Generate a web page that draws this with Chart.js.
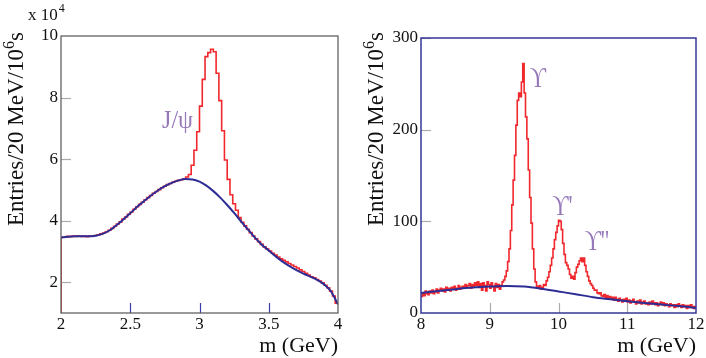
<!DOCTYPE html>
<html>
<head>
<meta charset="utf-8">
<script src="https://cdn.jsdelivr.net/npm/chart.js@4"></script>
<style>
  html, body { margin: 0; padding: 0; background: #fff; }
  #wrap { position: relative; width: 706px; height: 358px; }
  canvas { position: absolute; top: 0; }
  #c1 { left: 0; }
  #c2 { left: 350px; }
</style>
</head>
<body>
<div id="wrap">
  <canvas id="c1" width="350" height="358"></canvas>
  <canvas id="c2" width="356" height="358"></canvas>
</div>
<script>
// ---- J/psi region (x 10^4 entries per 20 MeV bin) ----
const jpsiStart = 2.0;
const jpsiBin = 0.02;
const jpsiCounts = [
  3.46, 3.47, 3.49, 3.48, 3.50, 3.49, 3.50, 3.49, 3.50, 3.48,
  3.50, 3.50, 3.52, 3.54, 3.57, 3.60, 3.64, 3.69, 3.75, 3.82,
  3.89, 3.96, 4.05, 4.12, 4.21, 4.28, 4.37, 4.45, 4.53, 4.60,
  4.68, 4.75, 4.82, 4.89, 4.95, 5.01, 5.07, 5.12, 5.17, 5.21,
  5.25, 5.28, 5.31, 5.33, 5.35, 5.42, 5.50, 5.80, 6.29, 6.89,
  7.72, 8.59, 9.33, 9.46, 9.57, 9.49, 8.79, 7.90, 6.92, 5.97,
  5.34, 4.84, 4.55, 4.34, 4.10, 3.95, 3.83, 3.72, 3.61, 3.50,
  3.41, 3.32, 3.23, 3.15, 3.08, 3.01, 2.94, 2.88, 2.82, 2.76,
  2.71, 2.66, 2.61, 2.56, 2.51, 2.46, 2.40, 2.35, 2.29, 2.23,
  2.18, 2.14, 2.09, 2.04, 1.98, 1.90, 1.82, 1.71, 1.55, 1.32
];
const jpsiFitX = [
  2.00, 2.05, 2.10, 2.15, 2.20, 2.25, 2.30, 2.35, 2.40, 2.45,
  2.50, 2.55, 2.60, 2.65, 2.70, 2.75, 2.80, 2.85, 2.90, 2.95,
  3.00, 3.05, 3.10, 3.15, 3.20, 3.25, 3.30, 3.35, 3.40, 3.45,
  3.50, 3.55, 3.60, 3.65, 3.70, 3.75, 3.80, 3.85, 3.90, 3.95, 4.00
];
const jpsiFitY = [
  3.45, 3.48, 3.49, 3.49, 3.49, 3.51, 3.57, 3.68, 3.85, 4.04,
  4.24, 4.45, 4.64, 4.82, 4.98, 5.12, 5.23, 5.31, 5.35, 5.34,
  5.27, 5.14, 4.96, 4.75, 4.51, 4.25, 3.98, 3.71, 3.45, 3.22,
  3.03, 2.84, 2.67, 2.52, 2.39, 2.28, 2.18, 2.08, 1.93, 1.70, 1.28
];
const jpsiXTicks = [2, 2.5, 3, 3.5, 4];
const jpsiYTicks = [2, 4, 6, 8, 10];

// ---- Upsilon region (entries per 20 MeV bin) ----
const upsStart = 8.0;
const upsBin = 0.02;
const upsCounts = [
  18, 22, 19, 24, 21, 20, 24, 22, 25, 21,
  23, 26, 22, 25, 27, 24, 26, 23, 28, 25,
  27, 24, 28, 26, 29, 25, 27, 30, 26, 28,
  29, 27, 31, 28, 30, 32, 27, 31, 29, 33,
  30, 34, 28, 32, 25, 33, 30, 24, 34, 31,
  27, 33, 29, 24, 32, 28, 31, 26, 30, 34,
  36, 40, 46, 56, 70, 90, 118, 145, 172, 205,
  232, 240, 236, 252, 272, 240, 214, 190, 156, 126,
  98, 70, 48, 34, 29, 27, 30, 26, 28, 31,
  30, 35, 39, 45, 52, 60, 70, 80, 88, 95,
  101, 100, 91, 76, 64, 55, 52, 48, 42, 38,
  40, 37, 44, 50, 53, 57, 60, 56, 60, 52,
  45, 40, 35, 32, 30, 27, 25, 25, 22, 21,
  22, 19, 18, 20, 17, 19, 16, 18, 15, 17,
  14, 17, 15, 13, 16, 14, 12, 15, 13, 16,
  12, 14, 11, 13, 15, 12, 10, 13, 11, 14,
  10, 12, 13, 10, 11, 9, 12, 10, 13, 11,
  9, 11, 8, 10, 12, 9, 11, 8, 10, 9,
  7, 10, 8, 9, 6, 9, 7, 10, 8, 6,
  9, 7, 8, 5, 8, 6, 9, 7, 5, 7
];
const upsFitX = [8.0, 8.25, 8.5, 8.75, 9.0, 9.25, 9.5, 9.75, 10.0, 10.25, 10.5, 10.75, 11.0, 11.25, 11.5, 11.75, 12.0];
const upsFitY = [21.8, 24.0, 26.0, 27.7, 28.8, 29.5, 28.8, 26.5, 23.5, 20.5, 17.3, 15.0, 12.8, 10.9, 9.2, 7.6, 5.5];
const upsXTicks = [8, 9, 10, 11, 12];
const upsYTicks = [0, 100, 200, 300];

// peak names, placed in data coordinates
const jpsiNames = [{ text: "J/\u03c8", x: 2.73, y: 7.0 }];
const upsNames = [
  { text: "\u03d2", x: 9.58, y: 247 },
  { text: "\u03d2'", x: 9.91, y: 107 },
  { text: "\u03d2''", x: 10.38, y: 69 },
];

const RED = "rgb(240, 40, 45)";
const BLUE = "rgb(45, 45, 150)";
const PURPLE = "rgb(150, 120, 185)";
const SERIF = '"Liberation Serif", "DejaVu Serif", serif';

// points at the bin edges; drawn with stepped "before" so each bin
// keeps its own value between its left and right edge
function histPoints(start, width, counts, floor) {
  const pts = [];
  if (floor !== null) pts.push({ x: start, y: floor });
  counts.forEach((c, i) => pts.push({ x: start + i * width, y: c }));
  pts.push({ x: start + counts.length * width, y: counts[counts.length - 1] });
  return pts;
}

function curvePoints(xs, ys) {
  return xs.map((x, i) => ({ x: x, y: ys[i] }));
}

function framePlugin(cfg) {
  return {
    id: "frame",
    afterDraw(chart) {
      const { ctx, chartArea: a, scales } = chart;
      const x = scales.x, y = scales.y;
      ctx.save();
      ctx.lineWidth = 1.2;
      // inner tick marks
      ctx.strokeStyle = cfg.yTickColor;
      cfg.yInner.forEach((v) => {
        const py = Math.round(y.getPixelForValue(v)) + 0.5;
        ctx.beginPath();
        ctx.moveTo(a.left, py);
        ctx.lineTo(a.left + 10, py);
        ctx.stroke();
      });
      ctx.strokeStyle = cfg.xTickColor;
      cfg.xInner.forEach((v) => {
        const px = Math.round(x.getPixelForValue(v)) + 0.5;
        ctx.beginPath();
        ctx.moveTo(px, a.bottom);
        ctx.lineTo(px, a.bottom - 10);
        ctx.stroke();
      });
      // frame
      ctx.strokeStyle = cfg.frameColor;
      ctx.lineWidth = cfg.frameWidth;
      ctx.strokeRect(a.left, a.top, a.right - a.left, a.bottom - a.top);

      // y title with superscript
      ctx.fillStyle = "#111";
      ctx.translate(cfg.yTitleX, cfg.yTitleY);
      ctx.rotate(-Math.PI / 2);
      ctx.textAlign = "left";
      ctx.textBaseline = "alphabetic";
      ctx.font = "23px " + SERIF;
      const main = "Entries/20 MeV/10";
      ctx.fillText(main, 0, 0);
      let w = ctx.measureText(main).width;
      ctx.font = "16px " + SERIF;
      ctx.fillText("6", w, -9);
      w += ctx.measureText("6").width;
      ctx.font = "23px " + SERIF;
      ctx.fillText("s", w, 0);
      ctx.restore();

      ctx.save();
      ctx.fillStyle = "#111";
      ctx.font = "22px " + SERIF;
      ctx.textAlign = "right";
      ctx.fillText("m (GeV)", a.right, 352);
      if (cfg.exponent) {
        ctx.textAlign = "left";
        ctx.font = "17px " + SERIF;
        ctx.fillText("x 10", 28, 20);
        const ew = ctx.measureText("x 10").width;
        ctx.font = "12px " + SERIF;
        ctx.fillText(cfg.exponent, 28 + ew + 1, 12);
      }
      // peak names, slightly condensed like the original lettering
      ctx.fillStyle = PURPLE;
      ctx.textAlign = "left";
      ctx.font = cfg.nameFont;
      cfg.names.forEach((n) => {
        const px = x.getPixelForValue(n.x), py = y.getPixelForValue(n.y);
        ctx.save();
        ctx.translate(px, py);
        ctx.scale(cfg.nameSquash, 1);
        ctx.fillText(n.text, 0, 0);
        ctx.restore();
      });
      ctx.restore();
    },
  };
}

function makeChart(canvas, cfg) {
  const tickFont = { family: SERIF, size: 17 };
  return new Chart(canvas, {
    type: "line",
    data: {
      datasets: [
        {
          label: "fit",
          data: cfg.fit,
          borderColor: BLUE,
          borderWidth: 2,
          pointRadius: 0,
          tension: 0.4,
          cubicInterpolationMode: "monotone",
        },
        {
          label: "data",
          data: cfg.hist,
          borderColor: RED,
          borderWidth: 1.6,
          pointRadius: 0,
          stepped: "before",
        },
      ],
    },
    options: {
      responsive: false,
      animation: false,
      layout: { padding: cfg.padding },
      plugins: { legend: { display: false }, tooltip: { enabled: false } },
      scales: {
        x: {
          type: "linear",
          min: cfg.xMin,
          max: cfg.xMax,
          grid: { display: false, drawTicks: false },
          border: { display: false },
          ticks: {
            font: tickFont, color: "#111", padding: 1, maxRotation: 0, autoSkip: false,
            callback: (v) => String(v),
          },
          afterBuildTicks: (s) => { s.ticks = cfg.xTicks.map((v) => ({ value: v })); },
          afterFit: (s) => { s.height = 45; },
        },
        y: {
          type: "linear",
          min: cfg.yMin,
          max: cfg.yMax,
          grid: { display: false, drawTicks: false },
          border: { display: false },
          ticks: { font: tickFont, color: "#111", padding: 3, callback: (v) => String(v) },
          afterBuildTicks: (s) => { s.ticks = cfg.yTicks.map((v) => ({ value: v })); },
          afterFit: (s) => { s.width = cfg.yWidth; },
        },
      },
    },
    plugins: [framePlugin(cfg)],
  });
}

makeChart(document.getElementById("c1"), {
  fit: curvePoints(jpsiFitX, jpsiFitY),
  hist: histPoints(jpsiStart, jpsiBin, jpsiCounts, 1.0),
  xMin: 2, xMax: 4, yMin: 1, yMax: 10,
  xTicks: jpsiXTicks, yTicks: jpsiYTicks,
  xInner: [2.5, 3, 3.5], yInner: [2, 4, 6, 8],
  xTickColor: "rgb(60, 60, 170)", yTickColor: "#aaa",
  frameColor: "#555", frameWidth: 1.2,
  padding: { left: 0, right: 12, top: 36, bottom: 0 },
  yWidth: 61,
  yTitleX: 23, yTitleY: 226,
  exponent: "4",
  names: jpsiNames,
  nameFont: "26px " + SERIF,
  nameSquash: 0.92,
});

makeChart(document.getElementById("c2"), {
  fit: curvePoints(upsFitX, upsFitY),
  hist: histPoints(upsStart, upsBin, upsCounts, null),
  xMin: 8, xMax: 12, yMin: 0, yMax: 300,
  xTicks: upsXTicks, yTicks: upsYTicks,
  xInner: [9, 10, 11], yInner: [100, 200, 300],
  xTickColor: "#aaa", yTickColor: "#aaa",
  frameColor: "rgb(55, 55, 150)", frameWidth: 1.5,
  padding: { left: 0, right: 10, top: 38, bottom: 0 },
  yWidth: 71,
  yTitleX: 33, yTitleY: 226,
  exponent: null,
  names: upsNames,
  nameFont: "30px " + SERIF,
  nameSquash: 0.75,
});
</script>
</body>
</html>
